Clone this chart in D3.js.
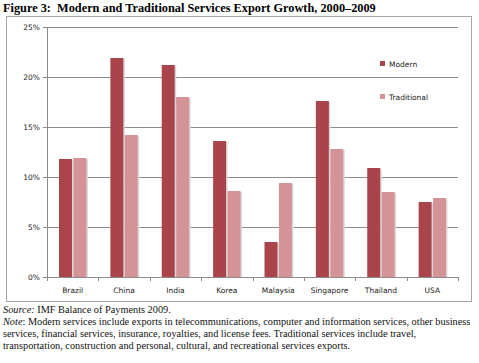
<!DOCTYPE html>
<html>
<head>
<meta charset="utf-8">
<script src="https://cdn.jsdelivr.net/npm/d3@7"></script>
<style>
  body { margin: 0; background: #fff; }
  svg { display: block; }
</style>
</head>
<body>
<svg id="chart" width="479" height="363"></svg>
<script>
// data
const countries = ['Brazil', 'China', 'India', 'Korea', 'Malaysia', 'Singapore', 'Thailand', 'USA'];
const modern = [11.8, 21.9, 21.2, 13.6, 3.5, 17.6, 10.9, 7.5];
const traditional = [11.9, 14.2, 18.0, 8.6, 9.4, 12.8, 8.5, 7.9];
const yTicks = [0, 5, 10, 15, 20, 25];
const seriesNames = ['Modern', 'Traditional'];

const COLORS = ['#a9444a', '#d49396'];
const MARGINS = { top: 27, bottom: 86, left: 47, right: 21 };
const WIDTH = 479;
const HEIGHT = 363;
const CHART_WIDTH = WIDTH - MARGINS.left - MARGINS.right;
const CHART_HEIGHT = HEIGHT - MARGINS.top - MARGINS.bottom;

const svg = d3.select('#chart');

// title
svg.append('text')
  .attr('x', 3)
  .attr('y', 12)
  .style('font-family', '"Liberation Serif", "Times New Roman", serif')
  .style('font-weight', 'bold')
  .style('font-size', '12.3px')
  .style('white-space', 'pre')
  .text('Figure 3:  Modern and Traditional Services Export Growth, 2000\u20132009');

// frame around chart
svg.append('rect')
  .attr('x', 6.5)
  .attr('y', 16.5)
  .attr('width', 465)
  .attr('height', 285)
  .attr('fill', '#fff')
  .attr('stroke', '#a6a6a6')
  .attr('stroke-width', 1);

const x = d3.scaleBand().domain(countries).range([0, CHART_WIDTH]);
const y = d3.scaleLinear().domain([0, 25]).range([CHART_HEIGHT, 0]);
const inner = d3.scaleBand().domain(seriesNames).range([12, x.bandwidth() - 12]).paddingInner(0.1);

const chart = svg.append('g')
  .attr('transform', `translate(${MARGINS.left}, ${MARGINS.top})`);

// gridlines
chart.append('g')
  .selectAll('line')
  .data(yTicks.filter((t) => t > 0))
  .enter()
  .append('line')
  .attr('x1', 0)
  .attr('x2', CHART_WIDTH)
  .attr('y1', (t) => Math.round(y(t)) + 0.5)
  .attr('y2', (t) => Math.round(y(t)) + 0.5)
  .attr('stroke', '#8c8c8c')
  .attr('stroke-width', 1);

const rows = countries.map((c, i) => ({ country: c, values: [modern[i], traditional[i]] }));

const groups = chart.selectAll('.group')
  .data(rows)
  .enter()
  .append('g')
  .classed('group', true)
  .attr('transform', (d) => `translate(${x(d.country)}, 0)`);

// soft shadow behind bars
groups.selectAll('.shadow')
  .data((d) => d.values)
  .enter()
  .append('rect')
  .classed('shadow', true)
  .attr('x', (v, i) => inner(seriesNames[i]) + 1.5)
  .attr('y', (v) => y(v) + 1)
  .attr('width', inner.bandwidth())
  .attr('height', (v) => CHART_HEIGHT - y(v) - 1)
  .attr('fill', '#d9d9d9');

groups.selectAll('.bar')
  .data((d) => d.values)
  .enter()
  .append('rect')
  .classed('bar', true)
  .attr('x', (v, i) => inner(seriesNames[i]))
  .attr('y', (v) => y(v))
  .attr('width', inner.bandwidth())
  .attr('height', (v) => CHART_HEIGHT - y(v))
  .attr('fill', (v, i) => COLORS[i]);

// y axis
const yAxis = chart.append('g')
  .call(d3.axisLeft(y).tickValues(yTicks).tickFormat((t) => t + '%').tickSize(4).tickSizeOuter(0));
yAxis.select('.domain').attr('stroke', '#8c8c8c');
yAxis.selectAll('.tick line').attr('stroke', '#8c8c8c');
yAxis.selectAll('text')
  .attr('fill', '#222')
  .style('font-family', '"DejaVu Sans", sans-serif')
  .style('font-size', '7.5px')
  .attr('x', -7);

// x axis
const xAxis = chart.append('g')
  .attr('transform', `translate(0, ${CHART_HEIGHT})`)
  .call(d3.axisBottom(x).tickSize(0).tickSizeOuter(0));
xAxis.select('.domain').attr('stroke', '#8c8c8c');
xAxis.selectAll('text')
  .attr('fill', '#222')
  .attr('dy', 0)
  .attr('y', 16)
  .style('font-family', '"DejaVu Sans", sans-serif')
  .style('font-size', '7.5px');

// category separators on the x axis
chart.append('g')
  .selectAll('line')
  .data(d3.range(countries.length + 1))
  .enter()
  .append('line')
  .attr('x1', (i) => Math.round(i * x.step()) + 0.5)
  .attr('x2', (i) => Math.round(i * x.step()) + 0.5)
  .attr('y1', CHART_HEIGHT)
  .attr('y2', CHART_HEIGHT + 4)
  .attr('stroke', '#8c8c8c');

// legend
const legend = svg.append('g')
  .attr('transform', 'translate(380, 64)');
seriesNames.forEach((name, i) => {
  const item = legend.append('g').attr('transform', `translate(0, ${i * 33})`);
  item.append('rect')
    .attr('x', 0)
    .attr('y', -3)
    .attr('width', 5)
    .attr('height', 5)
    .attr('fill', COLORS[i]);
  item.append('text')
    .attr('x', 9)
    .attr('y', 3)
    .style('font-family', '"DejaVu Sans", sans-serif')
    .style('font-size', '7.5px')
    .attr('fill', '#222')
    .text(name);
});

// source and note
const notes = svg.append('g')
  .style('font-family', '"Liberation Serif", "Times New Roman", serif')
  .style('font-size', '10.3px')
  .attr('fill', '#111');

const source = notes.append('text').attr('x', 3).attr('y', 313);
source.append('tspan').style('font-style', 'italic').text('Source:');
source.append('tspan').text(' IMF Balance of Payments 2009.');

const noteLines = [
  ['Note', ': Modern services include exports in telecommunications, computer and information services, other business'],
  [null, 'services, financial services, insurance, royalties, and license fees. Traditional services include travel,'],
  [null, 'transportation, construction and personal, cultural, and recreational services exports.'],
];
noteLines.forEach((line, i) => {
  const t = notes.append('text').attr('x', 3).attr('y', 325 + i * 12);
  if (line[0]) t.append('tspan').style('font-style', 'italic').text(line[0]);
  t.append('tspan').text(line[1]);
});
</script>
</body>
</html>
